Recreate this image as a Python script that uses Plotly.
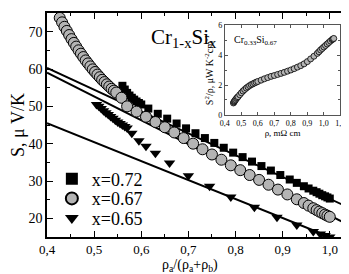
import plotly.graph_objects as go

# main chart data
sq_x = [0.56,0.565,0.57,0.575,0.58,0.585,0.59,0.595,0.60,0.615,0.635,0.655,0.675,0.695,0.715,0.735,0.755,0.775,0.795,0.815,0.835,0.855,0.875,0.895,0.915,0.93,0.945,0.955,0.965,0.972,0.978,0.984,0.99,0.995,1.0]
sq_y = [55.5,54.5,53.6,52.9,52.3,51.8,51.3,50.9,50.5,49.4,48.0,46.7,45.4,44.1,42.8,41.5,40.2,38.9,37.6,36.4,35.2,34.0,32.8,31.6,30.4,29.5,28.6,28.0,27.4,27.0,26.6,26.2,25.9,25.6,25.3]

ci_x = [0.427,0.432,0.437,0.442,0.447,0.452,0.457,0.462,0.467,0.472,0.477,0.482,0.487,0.492,0.497,0.502,0.507,0.512,0.517,0.522,0.527,0.532,0.537,0.542,0.547,0.558,0.57,0.59,0.61,0.63,0.65,0.67,0.69,0.71,0.73,0.75,0.77,0.79,0.81,0.83,0.85,0.87,0.89,0.91,0.93,0.945,0.955,0.965,0.972,0.978,0.984,0.99,0.995,1.0]
ci_y = [73.7,72.5,71.3,70.2,69.1,68.0,67.0,66.0,65.0,64.1,63.2,62.3,61.5,60.7,59.9,59.2,58.5,57.8,57.1,56.5,55.9,55.3,54.7,54.2,53.7,52.3,50.0,48.6,47.2,45.8,44.4,43.0,41.5,40.0,38.5,37.1,35.7,34.2,32.9,31.6,30.3,29.0,27.7,26.4,25.1,24.1,23.4,22.7,22.2,21.8,21.4,21.0,20.7,20.4]

tr_x = [0.505,0.51,0.515,0.52,0.525,0.53,0.535,0.54,0.545,0.55,0.555,0.56,0.565,0.57,0.58,0.595,0.61,0.63,0.66,0.70,0.745,0.79,0.84,0.888,0.93,0.965,0.98,0.99,1.0]
tr_y = [50.5,50.0,49.4,48.8,48.3,47.8,47.3,46.8,46.3,45.8,45.4,45.0,44.6,44.2,42.8,40.8,39.3,37.4,34.8,31.4,28.6,25.7,23.0,20.3,18.2,16.5,15.8,15.4,15.0]

# fitted straight lines (end points)
l1_x = [0.4, 1.045]; l1_y = [60.3, 22.6]
l2_x = [0.4, 1.045]; l2_y = [59.0, 17.9]
l3_x = [0.4, 1.0];   l3_y = [45.5, 15.0]

# inset data
in_x = [0.452,0.455,0.458,0.461,0.465,0.47,0.475,0.48,0.49,0.50,0.51,0.52,0.53,0.54,0.55,0.56,0.57,0.58,0.59,0.60,0.62,0.64,0.66,0.68,0.70,0.72,0.74,0.76,0.78,0.80,0.82,0.84,0.86,0.88,0.90,0.92,0.94,0.96,0.97,0.98,0.99,1.00,1.01,1.02,1.03,1.04,1.05,1.055,1.06]
in_y = [0.80,0.86,0.91,0.96,1.02,1.10,1.16,1.22,1.35,1.48,1.60,1.70,1.80,1.88,1.96,2.03,2.08,2.14,2.19,2.24,2.33,2.42,2.50,2.58,2.64,2.71,2.78,2.85,2.93,3.01,3.10,3.20,3.30,3.42,3.57,3.75,3.93,4.12,4.23,4.35,4.45,4.55,4.65,4.75,4.85,4.95,5.04,5.08,5.12]

FONT = "Liberation Serif"
fig = go.Figure()
for lx, ly in [(l1_x, l1_y), (l2_x, l2_y), (l3_x, l3_y)]:
    fig.add_trace(go.Scatter(x=lx, y=ly, mode="lines", line=dict(color="black", width=2), showlegend=False, hoverinfo="skip"))
fig.add_trace(go.Scatter(x=sq_x, y=sq_y, mode="markers", name="x=0.72", legend="legend",
                         marker=dict(symbol="square", size=8, color="black")))
fig.add_trace(go.Scatter(x=ci_x, y=ci_y, mode="markers", name="x=0.67", legend="legend2",
                         marker=dict(symbol="circle", size=11, color="#b4b4b4", line=dict(color="black", width=1))))
fig.add_trace(go.Scatter(x=tr_x, y=tr_y, mode="markers", name="x=0.65", legend="legend3",
                         marker=dict(symbol="triangle-down", size=10, color="black")))
fig.add_trace(go.Scatter(x=in_x, y=in_y, mode="markers", xaxis="x2", yaxis="y2", showlegend=False,
                         marker=dict(symbol="circle", size=6, color="#b4b4b4", line=dict(color="black", width=0.8))))

axcommon = dict(showline=True, linecolor="black", linewidth=1.5, mirror="ticks", ticks="inside",
                tickcolor="black", showgrid=False, zeroline=False)
leg = dict(x=0.016, xanchor="left", yanchor="middle", bgcolor="rgba(0,0,0,0)",
           font=dict(size=18), itemsizing="constant")
fig.update_layout(
    width=349, height=274, margin=dict(l=39, r=5, t=1, b=45),
    plot_bgcolor="white", paper_bgcolor="white", separators=", ",
    font=dict(family=FONT, color="black", size=14),
    xaxis=dict(range=[0.4, 1.045], tickvals=[0.4,0.5,0.6,0.7,0.8,0.9,1.0], tickformat=".1f",
               ticklen=6, tickfont=dict(size=13),
               minor=dict(ticks="inside", dtick=0.05, ticklen=3, tickcolor="black"),
               **axcommon),
    yaxis=dict(range=[15, 75], tickvals=[20,30,40,50,60,70], ticklen=6,
               minor=dict(ticks="inside", dtick=5, ticklen=3, tickcolor="black"),
               title=dict(text="S, μ V/K", font=dict(size=18), standoff=2), **axcommon),
    xaxis2=dict(domain=[0.585, 0.965], anchor="y2", range=[0.4, 1.1], dtick=0.1, tickformat=".1f",
                showline=True, linecolor="#555", linewidth=1, mirror="ticks", ticks="inside", ticklen=3,
                tickcolor="#555", showgrid=False, zeroline=False, tickfont=dict(size=8),
                title=dict(text="ρ, mΩ cm", font=dict(size=9), standoff=2)),
    yaxis2=dict(domain=[0.545, 0.945], anchor="x2", range=[0, 6], tickvals=[0,2,4,6],
                showline=True, linecolor="#555", linewidth=1, mirror="ticks", ticks="inside", ticklen=3,
                tickcolor="#555", showgrid=False, zeroline=False, tickfont=dict(size=8),
                minor=dict(ticks="inside", dtick=1, ticklen=2, tickcolor="#555"),
                title=dict(text="S<sup>2</sup>/ρ, μW K<sup>-2</sup>cm<sup>-1</sup>", font=dict(size=10), standoff=2)),
    legend=dict(y=0.259, **leg),
    legend2=dict(y=0.171, **leg),
    legend3=dict(y=0.083, **leg),
    annotations=[
        dict(text="Cr<sub>1-x</sub>Si<sub>x</sub>", xref="paper", yref="paper", x=0.45, y=0.89,
             showarrow=False, font=dict(size=21), xanchor="center", yanchor="middle"),
        dict(text="Cr<sub>0.33</sub>Si<sub>0.67</sub>", xref="x2 domain", yref="y2 domain", x=0.06, y=0.83,
             showarrow=False, font=dict(size=10), xanchor="left", yanchor="middle"),
        dict(text="ρ<sub>a</sub>/(ρ<sub>a</sub>+ρ<sub>b</sub>)", xref="paper", yref="paper", x=0.47, y=-0.128,
             showarrow=False, font=dict(size=14), xanchor="center", yanchor="middle"),
    ],
)
fig.write_html("out.html")
